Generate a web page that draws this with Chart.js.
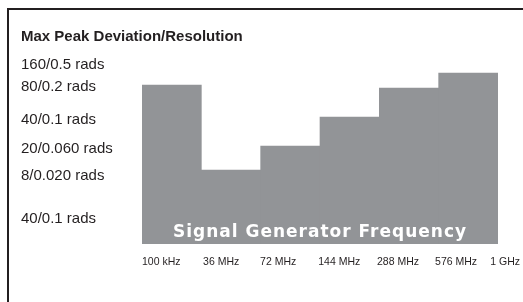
<!DOCTYPE html>
<html>
<head>
<meta charset="utf-8">
<script src="https://cdn.jsdelivr.net/npm/chart.js@4.4.1/dist/chart.umd.min.js"></script>
<style>
  html, body { margin: 0; padding: 0; background: #fff; }
</style>
</head>
<body>
<canvas id="chart" width="523" height="302"></canvas>
<script>
// band edge labels along the bottom and where each one starts (band units)
const freqEdges = ["100 kHz", "36 MHz", "72 MHz", "144 MHz", "288 MHz", "576 MHz", "1 GHz"];
const freqEdgeTicks = [0, 1.03, 1.99, 2.97, 3.96, 4.94, 5.87];
// bar heights per band (arbitrary level units, 0..190)
const bandLevels = [159, 74, 98, 127, 156, 171];
// deviation labels on the left and where they sit on the level scale
const levelTicks = [179, 157, 124, 95, 68, 25];
const levelLabels = ["160/0.5 rads", "80/0.2 rads", "40/0.1 rads", "20/0.060 rads", "8/0.020 rads", "40/0.1 rads"];

const ink = "#231f20";
const barGray = "#929497";

Chart.defaults.font.family = "'Liberation Sans', Arial, sans-serif";
Chart.defaults.color = ink;

// partial box frame round the figure
const framePlugin = {
  id: "frame",
  beforeDraw(chart) {
    const ctx = chart.ctx;
    ctx.save();
    ctx.fillStyle = ink;
    ctx.fillRect(7, 8, 2, chart.height - 8);
    ctx.fillRect(7, 8, chart.width - 7, 2);
    ctx.restore();
  },
};

// white caption printed inside the bars
const bandTitlePlugin = {
  id: "bandTitle",
  afterDatasetsDraw(chart) {
    const { ctx, chartArea } = chart;
    ctx.save();
    ctx.fillStyle = "#fff";
    ctx.font = "bold 17px 'DejaVu Sans'";
    ctx.letterSpacing = "1px";
    ctx.textAlign = "center";
    ctx.textBaseline = "alphabetic";
    ctx.fillText("Signal Generator Frequency", (chartArea.left + chartArea.right) / 2, chartArea.bottom - 7);
    ctx.restore();
  },
};

new Chart(document.getElementById("chart"), {
  type: "bar",
  data: {
    datasets: [
      {
        data: bandLevels.map((v, i) => ({ x: i + 0.5, y: v })),
        backgroundColor: barGray,
        borderWidth: 0,
        barThickness: "flex",
        barPercentage: 1,
        categoryPercentage: 1,
      },
    ],
  },
  options: {
    responsive: false,
    animation: false,
    layout: { padding: { left: 21, right: 25, top: 28, bottom: 34 } },
    plugins: {
      legend: { display: false },
      tooltip: { enabled: false },
      title: {
        display: true,
        text: "Max Peak Deviation/Resolution",
        align: "start",
        color: ink,
        font: { size: 15, weight: "bold" },
        padding: { top: 0, bottom: 8 },
      },
    },
    scales: {
      x: {
        type: "linear",
        offset: false,
        min: 0,
        max: 6,
        grid: { display: false, drawTicks: false, offset: false },
        border: { display: false },
        afterBuildTicks: (s) => {
          s.ticks = freqEdgeTicks.map((v) => ({ value: v }));
        },
        afterFit: (s) => {
          s.height = 24;
          s.paddingLeft = 0;
          s.paddingRight = 0;
        },
        ticks: {
          autoSkip: false,
          maxRotation: 0,
          align: "start",
          padding: 12,
          color: ink,
          font: { size: 10.5 },
          callback: (v, i) => freqEdges[i],
        },
      },
      y: {
        min: 0,
        max: 190,
        grid: { display: false, drawTicks: false },
        border: { display: false },
        afterBuildTicks: (s) => {
          s.ticks = levelTicks.map((v) => ({ value: v }));
        },
        afterFit: (s) => {
          s.width = 121;
        },
        ticks: {
          autoSkip: false,
          crossAlign: "far",
          padding: 0,
          color: ink,
          font: { size: 15 },
          callback: (v, i) => levelLabels[i],
        },
      },
    },
  },
  plugins: [framePlugin, bandTitlePlugin],
});
</script>
</body>
</html>
